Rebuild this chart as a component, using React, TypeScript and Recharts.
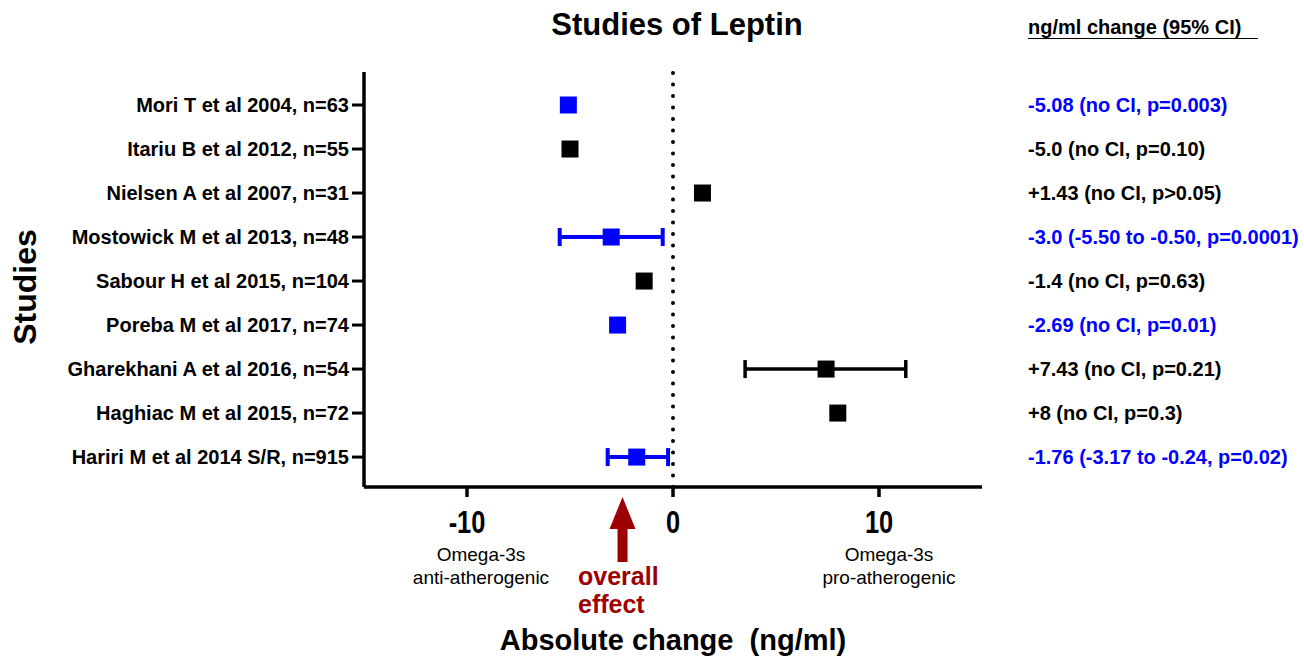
import React from "react";
import { ScatterChart, Scatter, XAxis, YAxis, ErrorBar, ReferenceLine } from "recharts";

const studies = [
  "Mori T et al 2004, n=63",
  "Itariu B et al 2012, n=55",
  "Nielsen A et al 2007, n=31",
  "Mostowick M et al 2013, n=48",
  "Sabour H et al 2015, n=104",
  "Poreba M et al 2017, n=74",
  "Gharekhani A et al 2016, n=54",
  "Haghiac M et al 2015, n=72",
  "Hariri M et al 2014 S/R, n=915",
];
const effects = [-5.08, -5.0, 1.43, -3.0, -1.4, -2.69, 7.43, 8, -1.76];
const ciLow: (number | null)[] = [null, null, null, -5.5, null, null, 3.5, null, -3.17];
const ciHigh: (number | null)[] = [null, null, null, -0.5, null, null, 11.3, null, -0.24];
const significant = [true, false, false, true, false, true, false, false, true];
const resultLabels = [
  "-5.08 (no CI, p=0.003)",
  "-5.0 (no CI, p=0.10)",
  "+1.43 (no CI, p>0.05)",
  "-3.0 (-5.50 to -0.50, p=0.0001)",
  "-1.4 (no CI, p=0.63)",
  "-2.69 (no CI, p=0.01)",
  "+7.43 (no CI, p=0.21)",
  "+8 (no CI, p=0.3)",
  "-1.76 (-3.17 to -0.24, p=0.02)",
];
const xTicks = [-10, 0, 10];
const overallEffect = -2.45;

const BLUE = "#0000ff";
const BLACK = "#000000";
const DARKRED = "#9c0000";
const FONT = "'Liberation Sans', Arial, Helvetica, sans-serif";

const rows = studies.map((name, i) => ({
  row: i + 1,
  name,
  effect: effects[i],
  err: ciLow[i] != null ? [effects[i] - (ciLow[i] as number), (ciHigh[i] as number) - effects[i]] : undefined,
  sig: significant[i],
}));
const blueRows = rows.filter((r) => r.sig);
const blackRows = rows.filter((r) => !r.sig);

const square = (color: string) => (props: any) => (
  <rect x={props.cx - 8.5} y={props.cy - 8.5} width={17} height={17} fill={color} />
);

const RightTick = (props: any) => {
  const i = props.payload.value - 1;
  return (
    <text x={props.x + 38} y={props.y} dy={7} textAnchor="start" fontSize={20} fontWeight={700} fontFamily={FONT}
      fill={significant[i] ? BLUE : BLACK}>
      {resultLabels[i]}
    </text>
  );
};

// tick numbers on the x axis are a condensed bold face
const XTick = (props: any) => (
  <g transform={`translate(${props.x},${props.y + 28}) scale(0.82,1)`}>
    <text x={0} y={0} textAnchor="middle" fontSize={31} fontWeight={700} fontFamily={FONT} fill="#000">
      {props.payload.value}
    </text>
  </g>
);

const ArrowMark = (props: any) => {
  const vb = props.viewBox || {};
  const x = vb.x;
  const y0 = 497;
  return (
    <g>
      <polygon points={`${x},${y0} ${x - 13},${y0 + 32} ${x + 13},${y0 + 32}`} fill={DARKRED} />
      <rect x={x - 5} y={y0 + 30} width={10} height={35} fill={DARKRED} />
    </g>
  );
};

export default function App() {
  const W = 1304;
  const H = 662;
  return (
    <div style={{ position: "absolute", left: 0, top: 0, width: W, height: H, background: "#fff", fontFamily: FONT }}>
      <ScatterChart width={W} height={H} margin={{ top: 72, right: 0, bottom: 115, left: 0 }}>
        <XAxis type="number" dataKey="effect" domain={[-15, 15]} ticks={xTicks} allowDataOverflow height={60}
          axisLine={{ stroke: "#000", strokeWidth: 3.5 }} tickLine={{ stroke: "#000", strokeWidth: 3.5 }} tickSize={10}
          tick={<XTick />} tickMargin={8} />
        <YAxis yAxisId="left" type="number" dataKey="row" domain={[0.25, 9.68]} reversed ticks={[1, 2, 3, 4, 5, 6, 7, 8, 9]}
          allowDataOverflow width={364} interval={0}
          tickFormatter={(v: number) => studies[v - 1] || ""}
          axisLine={{ stroke: "#000", strokeWidth: 3.5 }} tickLine={{ stroke: "#000", strokeWidth: 3 }} tickSize={12}
          tick={{ fontSize: 20, fontWeight: 700, fill: "#000", fontFamily: FONT }} tickMargin={3} />
        <YAxis yAxisId="right" orientation="right" type="number" dataKey="row" domain={[0.25, 9.68]} reversed
          ticks={[1, 2, 3, 4, 5, 6, 7, 8, 9]} allowDataOverflow width={322} interval={0}
          axisLine={false} tickLine={false} tick={<RightTick />} />
        <ReferenceLine yAxisId="left" x={0} stroke="#000" strokeWidth={4} strokeDasharray="0 11.5" strokeLinecap="round" />
        <ReferenceLine yAxisId="left" x={overallEffect} stroke="none" label={<ArrowMark />} ifOverflow="visible" />
        <Scatter yAxisId="left" data={blackRows} shape={square(BLACK)} isAnimationActive={false}>
          <ErrorBar dataKey="err" direction="x" width={9} stroke={BLACK} strokeWidth={3.5} />
        </Scatter>
        <Scatter yAxisId="left" data={blueRows} shape={square(BLUE)} isAnimationActive={false}>
          <ErrorBar dataKey="err" direction="x" width={9} stroke={BLUE} strokeWidth={4} />
        </Scatter>
        <Scatter yAxisId="right" data={rows} shape={() => <g />} isAnimationActive={false} />
      </ScatterChart>

      <div style={{ position: "absolute", left: 477, top: 6, width: 400, textAlign: "center", fontSize: 31, fontWeight: 700, lineHeight: "38px" }}>
        Studies of Leptin
      </div>
      <div style={{ position: "absolute", left: 1028, top: 16, width: 230, fontSize: 20, fontWeight: 700, borderBottom: "1.5px solid #000", lineHeight: "22px", whiteSpace: "nowrap" }}>
        ng/ml change (95% CI)
      </div>
      <div style={{ position: "absolute", left: 25 - 100, top: 287 - 20, width: 200, textAlign: "center", fontSize: 32, fontWeight: 700, transform: "rotate(-90deg)", lineHeight: "40px" }}>
        Studies
      </div>
      <div style={{ position: "absolute", left: 381, top: 543, width: 200, textAlign: "center", fontSize: 19, lineHeight: "23px" }}>
        Omega-3s<br />anti-atherogenic
      </div>
      <div style={{ position: "absolute", left: 789, top: 543, width: 200, textAlign: "center", fontSize: 19, lineHeight: "23px" }}>
        Omega-3s<br />pro-atherogenic
      </div>
      <div style={{ position: "absolute", left: 578, top: 562, fontSize: 25, fontWeight: 700, color: DARKRED, lineHeight: "28px" }}>
        overall<br />effect
      </div>
      <div style={{ position: "absolute", left: 373, top: 622, width: 600, textAlign: "center", fontSize: 29, fontWeight: 700, lineHeight: "36px" }}>
        Absolute change&nbsp; (ng/ml)
      </div>
    </div>
  );
}
